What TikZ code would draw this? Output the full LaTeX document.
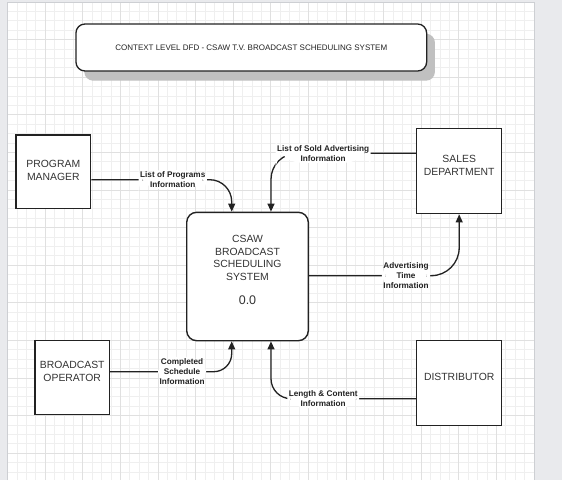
\documentclass[tikz,border=0pt]{standalone}
\usepackage{fontspec}
\setmainfont{Liberation Sans}
\usepackage{xcolor}
\definecolor{line-dark}{RGB}{34,34,34}
\definecolor{text-dark}{RGB}{51,51,51}
\definecolor{grid-minor}{RGB}{239,239,239}
\definecolor{grid-major}{RGB}{224,224,224}
\definecolor{page-bg}{RGB}{233,234,237}
\definecolor{canvas-edge}{RGB}{205,207,211}
\definecolor{title-shadow}{RGB}{192,192,192}
\usepackage{tikz}
\usetikzlibrary{arrows.meta,shadows}

\begin{document}
\begin{tikzpicture}[x=1pt, y=-1pt,
    entity box/.style={draw=line-dark, line width=1.4pt, fill=white, inner sep=0pt, minimum width=85pt, minimum height=85pt},
    entity text/.style={font=\fontsize{10.4}{12.7}\selectfont, text=text-dark, align=center},
    proc box/.style={draw=line-dark, line width=1.4pt, fill=white, rounded corners=10pt, inner sep=0pt, minimum width=121.6pt, minimum height=128.4pt},
    title box/.style={draw=line-dark, line width=1.3pt, fill=white, rounded corners=9pt, minimum width=350.7pt, minimum height=47pt,
        drop shadow={shadow xshift=8.3pt, shadow yshift=-9.7pt, fill=title-shadow, opacity=1},
        font=\fontsize{8}{9}\selectfont, text=line-dark},
    flow/.style={draw=line-dark, line width=1.3pt, -{Triangle[length=8pt, width=7pt]}},
    flow label/.style={fill=white, inner sep=1.5pt, font=\fontsize{8.2}{10}\selectfont\bfseries, text=line-dark, align=center}
]
\useasboundingbox (0,0) rectangle (562,480);

% Page and grid canvas
\fill[page-bg] (0,0) rectangle (562,480);
\fill[white] (7.5,2) rectangle (534.3,480);
\foreach \gx in {0,...,56} {\draw[grid-minor, line width=0.7pt] ({7.5+9.4*\gx},2) -- ({7.5+9.4*\gx},480);}
\foreach \gy in {0,...,50} {\draw[grid-minor, line width=0.7pt] (7.5,{2+9.4*\gy}) -- (534.3,{2+9.4*\gy});}
\foreach \gx in {0,4,...,56} {\draw[grid-major, line width=0.7pt] ({7.5+9.4*\gx},2) -- ({7.5+9.4*\gx},480);}
\foreach \gy in {0,4,...,48} {\draw[grid-major, line width=0.7pt] (7.5,{2+9.4*\gy}) -- (534.3,{2+9.4*\gy});}
\draw[canvas-edge, line width=0.8pt] (7.5,480) -- (7.5,2) -- (534.3,2) -- (534.3,480);

% Title
\node[title box] (title) at (251.3,47.5) {CONTEXT LEVEL DFD - CSAW T.V. BROADCAST SCHEDULING SYSTEM};

% External entities
\node[entity box, minimum width=74.7pt, minimum height=73.7pt,
    label={[entity text, yshift=1.3pt]center:{PROGRAM\\MANAGER}}] (pm) at (53.3,171.8) {};
\node[entity box, minimum height=85.4pt,
    label={[entity text, yshift=5.7pt]center:{SALES\\DEPARTMENT}}] (sales) at (459.2,171) {};
\node[entity box, minimum width=74.3pt, minimum height=73.6pt,
    label={[entity text, yshift=6.2pt]center:{BROADCAST\\OPERATOR}}] (bo) at (72.2,377.5) {};
\node[entity box, minimum height=84.6pt,
    label={[entity text, yshift=5.7pt]center:{DISTRIBUTOR}}] (dist) at (459.2,383) {};

% Process
\node[proc box,
    label={[entity text, yshift=6.7pt]center:{CSAW\\BROADCAST\\SCHEDULING\\SYSTEM\\[11pt]{\fontsize{12.5}{14}\selectfont 0.0}}}] (proc) at (247.5,276.5) {};

% Data flows
\draw[flow, rounded corners=22pt] ([yshift=-7.9pt]pm.east) -| node[flow label, pos=0.29] {List of Programs\\Information} ([xshift=-15.8pt]proc.north);
\draw[flow, rounded corners=26pt] ([yshift=17.7pt]sales.west) -| node[flow label, pos=0.32] {List of Sold Advertising\\Information} ([xshift=23.5pt]proc.north);
\draw[flow, rounded corners=28pt] ([yshift=0.8pt]proc.east) -| node[flow label, pos=0.323] {Advertising\\Time\\Information} (sales.south);
\draw[flow, rounded corners=18pt] ([yshift=5.8pt]bo.east) -| node[flow label, pos=0.296] {Completed\\Schedule\\Information} ([xshift=-15.8pt]proc.south);
\draw[flow, rounded corners=20pt] ([yshift=-15.7pt]dist.west) -| node[flow label, pos=0.32] {Length \& Content\\Information} ([xshift=23.5pt]proc.south);

\end{tikzpicture}
\end{document}
